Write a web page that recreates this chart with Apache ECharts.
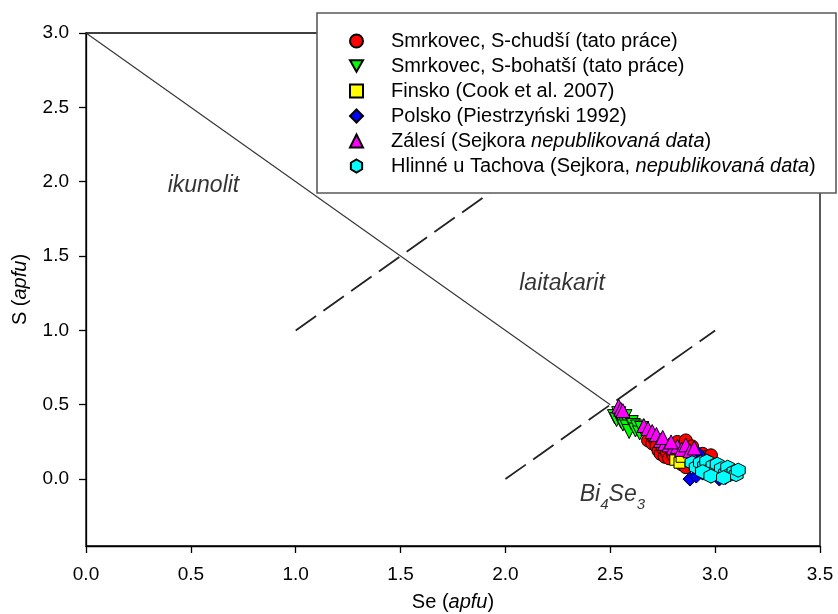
<!DOCTYPE html>
<html><head><meta charset="utf-8">
<script src="https://cdn.jsdelivr.net/npm/echarts@6/dist/echarts.min.js"></script>
<style>html,body{margin:0;padding:0;background:#fff}#c{width:838px;height:614px}</style>
</head><body><div id="c"></div>
<script>
const FONT = '"Liberation Sans", Arial, Helvetica, sans-serif';
const xTicks = [0, 0.5, 1, 1.5, 2, 2.5, 3, 3.5];
const yTicks = [0, 0.5, 1, 1.5, 2, 2.5, 3];

const seriesNames = [
  'Smrkovec, S-chudší (tato práce)',
  'Smrkovec, S-bohatší (tato práce)',
  'Finsko (Cook et al. 2007)',
  'Polsko (Piestrzyński 1992)',
  'Zálesí (Sejkora nepublikovaná data)',
  'Hlinné u Tachova (Sejkora, nepublikovaná data)'
];

const smrkovecChudsi = [
  [2.68,0.26],[2.70,0.24],[2.71,0.27],[2.72,0.22],[2.73,0.19],[2.74,0.17],[2.75,0.21],
  [2.76,0.15],[2.77,0.18],[2.78,0.14],[2.79,0.20],[2.80,0.16],[2.81,0.23],[2.82,0.25],
  [2.83,0.19],[2.84,0.10],[2.85,0.22],[2.86,0.26],[2.87,0.17],[2.88,0.20],[2.90,0.14],
  [2.92,0.12],[2.94,0.17],[2.96,0.15],[2.98,0.16],[2.86,0.08],[2.89,0.22]
];
const smrkovecBohatsi = [
  [2.52,0.42],[2.53,0.40],[2.55,0.39],[2.56,0.37],[2.57,0.42],[2.58,0.35],[2.59,0.32],
  [2.60,0.38],[2.61,0.36],[2.62,0.33],[2.63,0.35],[2.64,0.31],[2.65,0.34],[2.54,0.44]
];
const finsko = [[2.81,0.13],[2.83,0.11],[2.84,0.15]];
const polsko = [[2.88,0.00],[2.91,0.02],[2.94,0.04],[2.92,0.17],[2.98,0.02],[3.02,0.00],[3.05,0.01]];
const zalesi = [
  [2.54,0.49],[2.55,0.47],[2.56,0.46],[2.66,0.36],[2.68,0.34],[2.70,0.32],[2.72,0.30],
  [2.74,0.26],[2.76,0.24],[2.78,0.23],[2.80,0.21],[2.82,0.22],[2.84,0.20],[2.86,0.23],
  [2.88,0.19],[2.75,0.28],[2.79,0.25],[2.90,0.21]
];
const hlinne = [
  [2.89,0.11],[2.91,0.08],[2.93,0.11],[2.95,0.09],[2.96,0.12],[2.97,0.06],[2.99,0.09],
  [3.00,0.05],[3.01,0.10],[3.02,0.03],[3.03,0.07],[3.05,0.04],[3.06,0.08],[3.07,0.03],
  [3.09,0.05],[3.10,0.03],[3.11,0.06],[2.94,0.05],[2.98,0.02],[3.04,0.01]
];

const boundarySolid = [[0,3],[2.5,0.5]];
const boundaryDashUpper = [[1,1],[2,2]];
const boundaryDashLower = [[2,0],[3,1]];

const fieldLabels = [
  {value:[0.56,1.97], text:'{it|ikunolit}'},
  {value:[2.27,1.31], text:'{it|laitakarit}'},
  {value:[2.51,-0.11], text:'{it|Bi}{sub|4}{it|Se}{sub|3}'}
];

const HEX = 'path://M0,-1L0.866,-0.5L0.866,0.5L0,1L-0.866,0.5L-0.866,-0.5Z';
const TRI_DOWN = 'path://M-1,-0.87L1,-0.87L0,0.87Z';

const markerStyles = [
  {symbol:'circle', size:13, color:'#ff0000'},
  {symbol:TRI_DOWN, size:14, color:'#00ff00'},
  {symbol:'rect', size:11, color:'#ffff00'},
  {symbol:'diamond', size:14, color:'#0000ff'},
  {symbol:'triangle', size:14, color:'#ff00ff'},
  {symbol:HEX, size:14, color:'#00ffff'}
];
const seriesData = [smrkovecChudsi, smrkovecBohatsi, finsko, polsko, zalesi, hlinne];

const scatterSeries = seriesData.map((d, i) => ({
  type:'scatter', name:seriesNames[i], data:d,
  symbol:markerStyles[i].symbol, symbolSize:markerStyles[i].size,
  itemStyle:{color:markerStyles[i].color, borderColor:'#000', borderWidth:1, opacity:1},
  z:3+i
}));

const lineBase = {type:'line', symbol:'none', silent:true, animation:false};

const chart = echarts.init(document.getElementById('c'), null, {renderer:'canvas'});
chart.setOption({
  animation:false,
  backgroundColor:'#fff',
  grid:{left:86, right:18, top:33, bottom:68, outerBoundsMode:'none', containLabel:false,
        show:true, borderColor:'#000', borderWidth:1.3, backgroundColor:'transparent'},
  xAxis:{
    type:'value', min:0, max:3.5, interval:0.5,
    name:'{n|Se (}{i|apfu}{n|)}', nameLocation:'middle', nameGap:46,
    nameTextStyle:{rich:{
      n:{fontFamily:FONT, fontSize:20, color:'#000'},
      i:{fontFamily:FONT, fontSize:20, color:'#000', fontStyle:'italic'}}},
    axisLine:{onZero:false, lineStyle:{color:'#000', width:1.3}},
    axisTick:{show:true, inside:false, length:7, lineStyle:{color:'#000', width:1.3}},
    axisLabel:{fontFamily:FONT, fontSize:19, color:'#000', margin:19, formatter:v=>v.toFixed(1)},
    splitLine:{show:false}
  },
  yAxis:{
    type:'value', min:-0.45, max:3.0,
    name:'{n|S (}{i|apfu}{n|)}', nameLocation:'middle', nameGap:56,
    nameTextStyle:{rich:{
      n:{fontFamily:FONT, fontSize:20, color:'#000'},
      i:{fontFamily:FONT, fontSize:20, color:'#000', fontStyle:'italic'}}},
    axisLine:{onZero:false, lineStyle:{color:'#000', width:1.3}},
    axisTick:{show:true, inside:false, length:7, customValues:yTicks, lineStyle:{color:'#000', width:1.3}},
    axisLabel:{fontFamily:FONT, fontSize:19, color:'#000', margin:17, customValues:yTicks, formatter:v=>v.toFixed(1)},
    splitLine:{show:false}
  },
  legend:{
    data:seriesNames, orient:'vertical', left:349, top:31, padding:0,
    itemWidth:13, itemHeight:13, itemGap:5, selectedMode:false, z:60,
    textStyle:{fontFamily:FONT, fontSize:20, lineHeight:20, color:'#000',
      rich:{
        sp:{width:23, fontSize:20, fontFamily:FONT},
        i:{fontFamily:FONT, fontSize:20, color:'#000', fontStyle:'italic', lineHeight:20}
      }},
    formatter:name => '{sp| }' + name.replace('nepublikovaná data', '{i|nepublikovaná data}')
  },
  graphic:[{
    type:'rect', z:50, zlevel:0,
    shape:{x:317, y:13, width:519, height:180},
    style:{fill:'#fff', stroke:'#5a5a5a', lineWidth:1.6}
  }],
  series:[
    Object.assign({}, lineBase, {name:'b1', data:boundarySolid, lineStyle:{color:'#333', width:1.1}, z:1}),
    Object.assign({}, lineBase, {name:'b2', data:boundaryDashUpper, lineStyle:{color:'#222', width:1.8, type:[25,9]}, z:1}),
    Object.assign({}, lineBase, {name:'b3', data:boundaryDashLower, lineStyle:{color:'#222', width:1.8, type:[25,9]}, z:1}),
    ...scatterSeries,
    {
      type:'scatter', name:'labels', silent:true, symbolSize:0, z:2,
      data:fieldLabels.map(f => ({value:f.value, label:{formatter:f.text}})),
      label:{show:true, position:'inside',
        rich:{
          it:{fontFamily:FONT, fontSize:23, fontStyle:'italic', color:'#000', verticalAlign:'top', lineHeight:25},
          sub:{fontFamily:FONT, fontSize:15, fontStyle:'italic', color:'#000', verticalAlign:'top', lineHeight:15, padding:[14,0,0,0]}
        }}
    }
  ]
});
</script></body></html>
